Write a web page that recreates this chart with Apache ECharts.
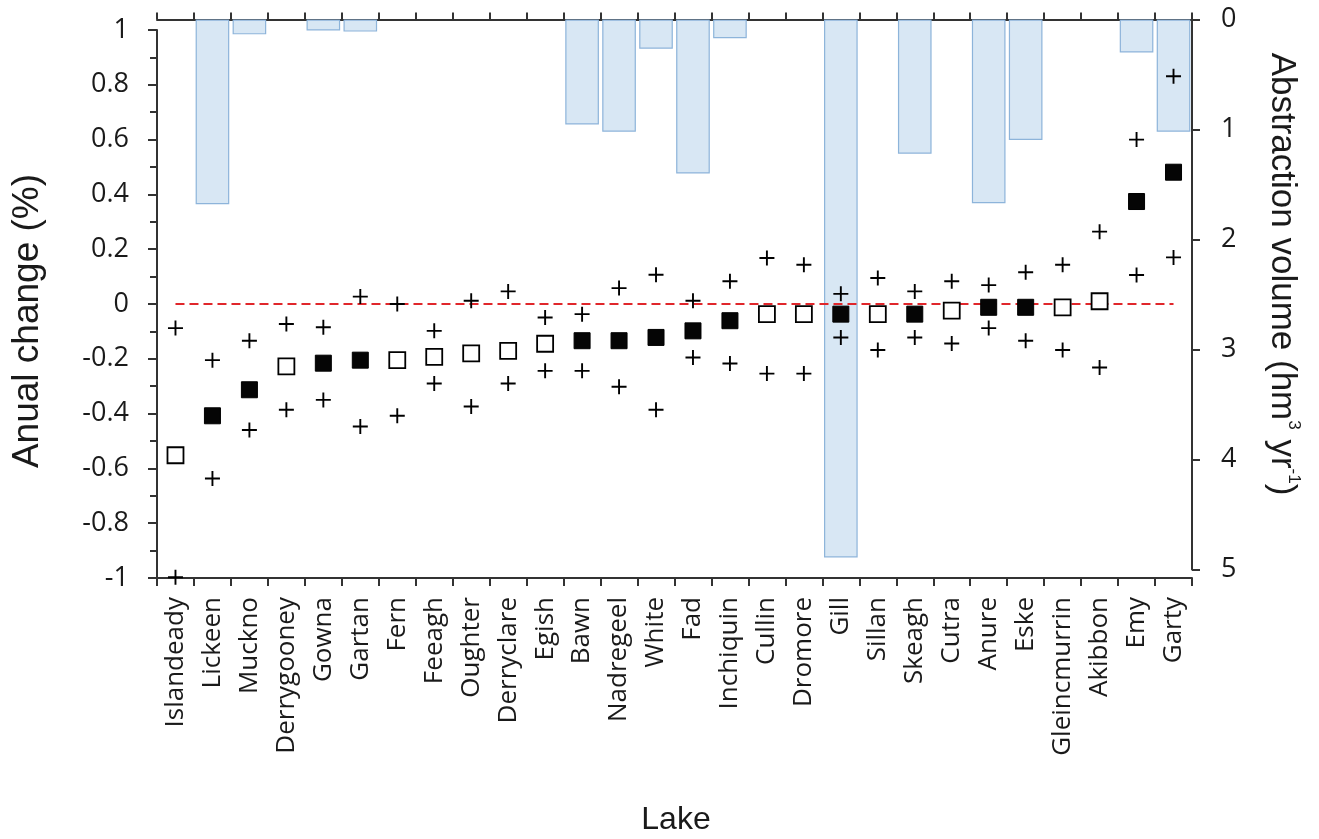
<!DOCTYPE html>
<html>
<head>
<meta charset="utf-8">
<script src="https://cdn.jsdelivr.net/npm/echarts@6/dist/echarts.min.js"></script>
<style>
html,body{margin:0;padding:0;background:#fff;}
#c{width:1319px;height:839px;}
</style>
</head>
<body>
<div id="c"></div>
<script>
// ---- data ----
const lakes = ['Islandeady','Lickeen','Muckno','Derrygooney','Gowna','Gartan','Fern','Feeagh','Oughter','Derryclare','Egish','Bawn','Nadregeel','White','Fad','Inchiquin','Cullin','Dromore','Gill','Sillan','Skeagh','Cutra','Anure','Eske','Gleincmurrin','Akibbon','Emy','Garty'];
// abstraction volume (hm3 yr-1), right axis (inverted)
const abstraction = [null,1.68,0.135,null,0.10,0.11,null,null,null,null,null,0.955,1.02,0.265,1.40,0.17,null,null,4.89,null,1.22,null,1.67,1.095,null,null,0.30,1.02];
// annual change (%) - central estimate
const meanChange = [-0.552,-0.408,-0.313,-0.228,-0.216,-0.205,-0.205,-0.193,-0.180,-0.171,-0.145,-0.134,-0.134,-0.122,-0.098,-0.061,-0.037,-0.037,-0.037,-0.037,-0.037,-0.024,-0.012,-0.012,-0.012,0.010,0.374,0.481];
// upper and lower bounds (+ markers)
const upperBound = [-0.088,-0.205,-0.134,-0.073,-0.085,0.027,0.000,-0.098,0.012,0.046,-0.049,-0.037,0.058,0.107,0.012,0.083,0.168,0.143,0.037,0.095,0.046,0.083,0.069,0.116,0.143,0.264,0.600,0.831];
const lowerBound = [-0.997,-0.637,-0.460,-0.386,-0.350,-0.447,-0.408,-0.290,-0.374,-0.290,-0.244,-0.244,-0.302,-0.386,-0.195,-0.217,-0.254,-0.254,-0.122,-0.168,-0.122,-0.144,-0.088,-0.134,-0.168,-0.232,0.106,0.170];
// filled (1) vs open (0) square
const significant = [0,1,1,0,1,1,0,0,0,0,0,1,1,1,1,1,0,0,1,0,1,0,1,1,0,0,1,1];

// ---- chart ----
const axisColor = '#333333';
const textColor = '#1a1a1a';
const filledMean = meanChange.map((v,i)=> significant[i] ? v : null);
const openMean = meanChange.map((v,i)=> significant[i] ? null : v);
const plusPath = 'path://M0,6.55H15V8.45H0Z M6.55,0H8.45V15H6.55Z';

const chart = echarts.init(document.getElementById('c'));
const option = {
  animation: false,
  backgroundColor: '#fff',
  grid: [
    {left:157, top:30, width:1035, height:548, containLabel:false, outerBoundsMode:'none'},
    {left:157, top:19.5, width:1035, height:550, containLabel:false, outerBoundsMode:'none'}
  ],
  xAxis: [
    {type:'category', gridIndex:0, data:lakes, position:'bottom', boundaryGap:true,
     axisLine:{show:true, onZero:false, lineStyle:{color:axisColor, width:2}},
     axisTick:{show:true, interval:0, length:8, inside:false, lineStyle:{color:axisColor, width:2}},
     axisLabel:{interval:0, rotate:90, margin:19, fontSize:26, fontFamily:'Open Sans', color:textColor},
     splitLine:{show:false}},
    {type:'category', gridIndex:1, data:lakes, position:'top', boundaryGap:true,
     axisLine:{show:true, onZero:false, lineStyle:{color:axisColor, width:2}},
     axisTick:{show:true, interval:0, length:7, inside:false, lineStyle:{color:axisColor, width:2}},
     axisLabel:{show:false}, splitLine:{show:false}}
  ],
  yAxis: [
    {type:'value', gridIndex:0, min:-1, max:1, interval:0.2, position:'left',
     axisLine:{show:true, onZero:false, lineStyle:{color:axisColor, width:2}},
     axisTick:{show:true, length:9, inside:false, lineStyle:{color:axisColor, width:2}},
     minorTick:{show:true, splitNumber:2, length:7, lineStyle:{color:axisColor, width:2}},
     splitLine:{show:false}, minorSplitLine:{show:false},
     axisLabel:{fontSize:27, fontFamily:'Open Sans', color:textColor, margin:28}},
    {type:'value', gridIndex:1, min:0, max:5, interval:1, position:'right', inverse:true,
     axisLine:{show:true, onZero:false, lineStyle:{color:axisColor, width:2}},
     axisTick:{show:true, length:8, inside:false, lineStyle:{color:axisColor, width:2}},
     splitLine:{show:false},
     axisLabel:{fontSize:27, fontFamily:'Open Sans', color:textColor, margin:29}}
  ],
  graphic: [
    {type:'text', x:28, y:321, rotation:Math.PI/2,
     style:{text:'Anual change (%)', textAlign:'center', textVerticalAlign:'middle', fontSize:37, fontFamily:'Liberation Sans', fill:textColor}},
    {type:'text', x:1282, y:274, rotation:-Math.PI/2,
     style:{text:'{a|Abstraction volume (hm}{s|3}{a| yr}{s|-1}{a|)}', textAlign:'center', textVerticalAlign:'middle',
       rich:{a:{fontSize:35, fontFamily:'Liberation Sans', fill:textColor, lineHeight:40},
             s:{fontSize:17, fontFamily:'Liberation Sans', fill:textColor, lineHeight:18, verticalAlign:'top'}}}},
    {type:'text', x:676, y:820,
     style:{text:'Lake', textAlign:'center', textVerticalAlign:'middle', fontSize:32, fontFamily:'Liberation Sans', fill:textColor}}
  ],
  series: [
    {type:'bar', xAxisIndex:1, yAxisIndex:1, data:abstraction, barWidth:'91%', z:1,
     itemStyle:{color:'#d8e7f4', borderColor:'#8db4da', borderWidth:1.2, opacity:1}},
    {type:'scatter', xAxisIndex:0, yAxisIndex:0, data:upperBound, symbol:plusPath, symbolSize:15, z:5,
     itemStyle:{color:'#000', opacity:1}},
    {type:'scatter', xAxisIndex:0, yAxisIndex:0, data:lowerBound, symbol:plusPath, symbolSize:15, z:5,
     itemStyle:{color:'#000', opacity:1}},
    {type:'scatter', xAxisIndex:0, yAxisIndex:0, data:openMean, symbol:'rect', symbolSize:16, z:6,
     itemStyle:{color:'#fff', borderColor:'#000', borderWidth:1.8, opacity:1},
     markLine:{silent:true, symbol:['none','none'], label:{show:false}, z:4,
       lineStyle:{type:[9,5], color:'#e0262b', width:1.8, opacity:1},
       data:[[{coord:[lakes[0],0]},{coord:[lakes[lakes.length-1],0]}]]}},
    {type:'scatter', xAxisIndex:0, yAxisIndex:0, data:filledMean, symbol:'rect', symbolSize:16, z:6,
     itemStyle:{color:'#050505', borderColor:'#000', borderWidth:1, opacity:1}}
  ]
};
chart.setOption(option);
</script>
</body>
</html>
